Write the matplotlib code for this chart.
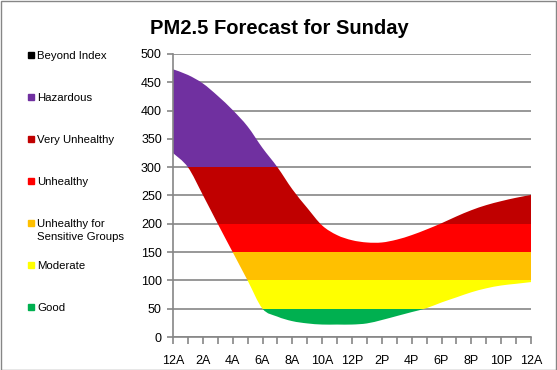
import numpy as np
import matplotlib
matplotlib.use('Agg')
from matplotlib import pyplot as plt
from matplotlib.patches import Rectangle, PathPatch
from matplotlib.path import Path

##### Data #####
hours = list(range(25))
hourLabels = ['12A', '2A', '4A', '6A', '8A', '10A', '12P', '2P', '4P', '6P', '8P', '10P', '12A']

upperVals = [473, 463, 448, 426, 401, 372, 334, 300, 261, 228, 197, 180, 171,
             167, 167, 172, 180, 190, 201, 213, 224, 233, 240, 246, 251]
lowerVals = [325, 300, 251, 200, 150, 100, 50, 36, 28, 24, 22, 22, 22,
             24, 30, 37, 44, 51, 61, 70, 79, 86, 91, 94, 97]

bandNames = ['Good', 'Moderate', 'Unhealthy for\nSensitive Groups', 'Unhealthy',
             'Very Unhealthy', 'Hazardous', 'Beyond Index']
bandLimits = [0, 50, 100, 150, 200, 300, 500, 1000]
bandColors = ['#00B050', '#FFFF00', '#FFC000', '#FF0000', '#C00000', '#7030A0', '#000000']

##### Helping functions #####

def smooth_verts(xList, yList):
	# catmull-rom through the points, written as bezier control points
	pts = np.column_stack([xList, yList]).astype(float)
	ext = np.vstack([pts[0], pts, pts[-1]])
	verts = [pts[0]]
	for i in range(len(pts) - 1):
		p0, p1, p2, p3 = ext[i], ext[i + 1], ext[i + 2], ext[i + 3]
		verts += [p1 + (p2 - p0) / 6.0, p2 - (p3 - p1) / 6.0, p2]
	return verts

def range_path(xList, upList, lowList):
	upV = smooth_verts(xList, upList)
	lowV = smooth_verts(xList[::-1], lowList[::-1])
	verts = upV + lowV + [upV[0]]
	codes = [Path.MOVETO] + [Path.CURVE4] * (len(upV) - 1)
	codes += [Path.LINETO] + [Path.CURVE4] * (len(lowV) - 1) + [Path.CLOSEPOLY]
	return Path(verts, codes)

##### Plot #####
plt.rcParams['font.family'] = 'Liberation Sans'
gridColor = '#868686'

fig = plt.figure(figsize=(5.57, 3.70), dpi=100)
ax = fig.add_axes([173 / 557, 1 - 337 / 370, 358 / 557, 283 / 370])

fillPath = range_path(hours, upperVals, lowerVals)
for idx in range(len(bandNames)):
	patch = PathPatch(fillPath, facecolor=bandColors[idx], edgecolor='none', zorder=2)
	ax.add_patch(patch)
	clipRect = Rectangle((0, bandLimits[idx]), 24, bandLimits[idx + 1] - bandLimits[idx], transform=ax.transData)
	patch.set_clip_path(clipRect)

ax.set_xlim(0, 24)
ax.set_ylim(0, 500)
ax.set_yticks(range(0, 501, 50))
ax.set_xticks(range(0, 25, 2))
ax.set_xticklabels(hourLabels)
ax.set_xticks(range(25), minor=True)

ax.grid(axis='y', color=gridColor, linewidth=1.2, zorder=0)
ax.set_axisbelow(True)
for side in ['top', 'right']:
	ax.spines[side].set_visible(False)
for side in ['left', 'bottom']:
	ax.spines[side].set_color(gridColor)
	ax.spines[side].set_linewidth(1.2)

ax.tick_params(axis='y', which='major', direction='out', length=4, color=gridColor, width=1.2, labelsize=9, pad=4)
ax.tick_params(axis='x', which='both', direction='out', length=5, color=gridColor, width=1.2, labelsize=9, pad=8)

fig.text(279 / 557, 1 - 29 / 370, 'PM2.5 Forecast for Sunday', ha='center', va='center',
         fontsize=14.5, fontweight='bold')

# legend on the left, top entry first
for pos, idx in enumerate(reversed(range(len(bandNames)))):
	yPix = 55 + pos * 42
	fig.patches.append(Rectangle((28 / 557, 1 - (yPix + 3) / 370), 6 / 557, 6 / 370,
	                             transform=fig.transFigure, color=bandColors[idx]))
	fig.text(37 / 557, 1 - (yPix - 4) / 370, bandNames[idx], ha='left', va='top',
	         fontsize=8.2, linespacing=1.4)

# chart border
fig.patches.append(Rectangle((0.5 / 557, 0.5 / 370), 555.5 / 557, 368.5 / 370, transform=fig.transFigure,
                             fill=False, edgecolor='#868686', linewidth=1))

plt.savefig('out.png', dpi=100)
